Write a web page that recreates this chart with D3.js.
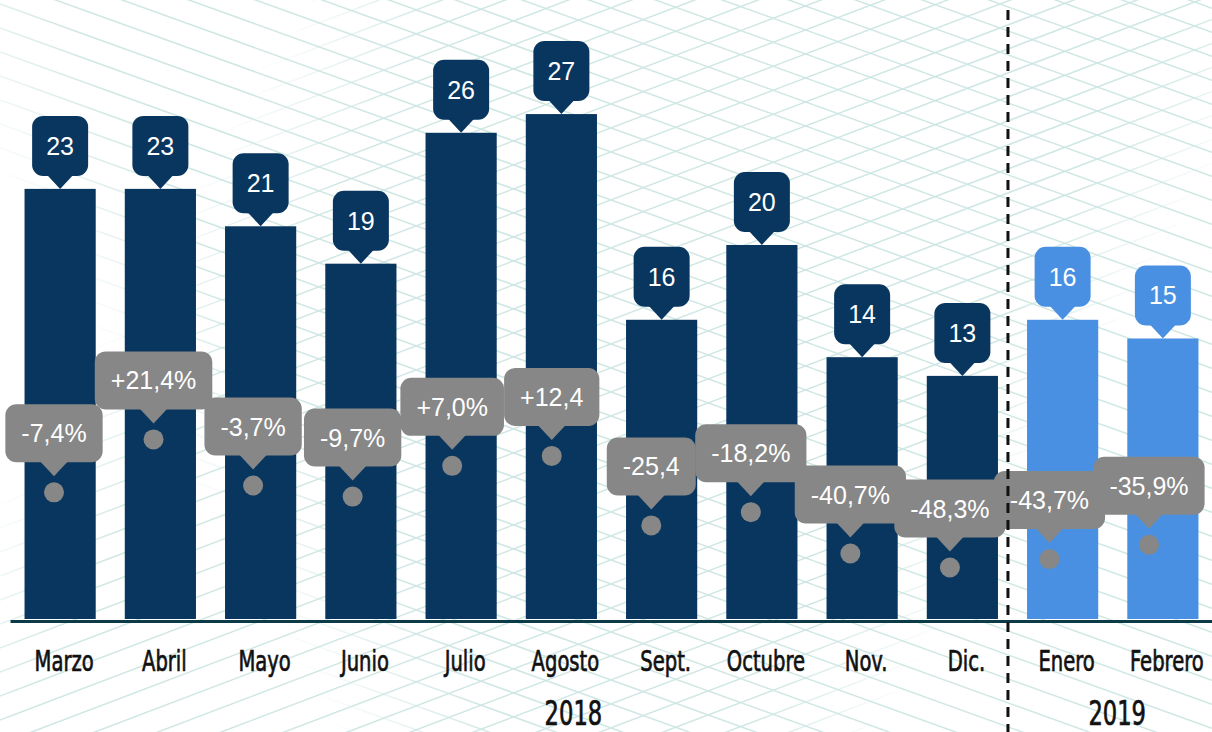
<!DOCTYPE html>
<html>
<head>
<meta charset="utf-8">
<script src="https://cdn.jsdelivr.net/npm/d3@7"></script>
<style>
  body { margin: 0; background: #fff; }
  svg { display: block; }
</style>
</head>
<body>
<svg id="chart"></svg>
<script>
const months = ["Marzo", "Abril", "Mayo", "Junio", "Julio", "Agosto", "Sept.", "Octubre", "Nov.", "Dic.", "Enero", "Febrero"];
const years = ["2018","2018","2018","2018","2018","2018","2018","2018","2018","2018","2019","2019"];
const counts = [23, 23, 21, 19, 26, 27, 16, 20, 14, 13, 16, 15];
const changes = [-7.4, 21.4, -3.7, -9.7, 7.0, 12.4, -25.4, -18.2, -40.7, -48.3, -43.7, -35.9];
const changeLabels = ["-7,4%", "+21,4%", "-3,7%", "-9,7%", "+7,0%", "+12,4", "-25,4", "-18,2%", "-40,7%", "-48,3%", "-43,7%", "-35,9%"];
const yearNames = ["2018", "2019"];

const width = 1212;
const height = 732;
const base = 619;
const condensed = '"DejaVu Sans Condensed", "DejaVu Sans", sans-serif';
const plain = '"Liberation Sans", Arial, sans-serif';

const svg = d3.select('#chart')
    .attr('width', width)
    .attr('height', height);

// background lattice, two fading families of lines
const defs = svg.append('defs');

function fadeMask(id, x1, y1, x2, y2, stops) {
  const grad = defs.append('linearGradient')
      .attr('id', id + '-grad')
      .attr('gradientUnits', 'userSpaceOnUse')
      .attr('x1', x1).attr('y1', y1).attr('x2', x2).attr('y2', y2);
  stops.forEach(s => grad.append('stop').attr('offset', s[0]).attr('stop-color', '#fff').attr('stop-opacity', s[1]));
  defs.append('mask').attr('id', id)
    .append('rect')
      .attr('width', width).attr('height', height)
      .attr('fill', 'url(#' + id + '-grad)');
}

fadeMask('mask-a', 0, height, width, 0, [[0, 0], [0.2, 0], [0.3, 1], [1, 1]]);
fadeMask('mask-b', 0, 0, width, height, [[0, 0], [0.18, 0], [0.27, 1], [0.72, 1], [0.8, 0], [1, 0]]);

const bgA = svg.append('g')
    .attr('mask', 'url(#mask-a)')
    .attr('stroke', '#cfe7e4')
    .attr('stroke-width', 1.5);

bgA.selectAll('line')
  .data(d3.range(-500, 800, 24))
  .enter().append('line')
    .attr('x1', 0).attr('y1', d => d)
    .attr('x2', width).attr('y2', d => d + width * 0.36);

const bgB = svg.append('g')
    .attr('mask', 'url(#mask-b)')
    .attr('stroke', '#cfe7e4')
    .attr('stroke-width', 1.5);

bgB.selectAll('line')
  .data(d3.range(0, 1300, 24))
  .enter().append('line')
    .attr('x1', 0).attr('y1', d => d)
    .attr('x2', width).attr('y2', d => d - width * 0.38);

const x = d3.scaleBand()
  .domain(months)
  .range([10, 1213])
  .paddingInner(0.29)
  .paddingOuter(0.145);

// the change series sits on its own, slightly narrower, point scale
const xp = d3.scalePoint()
  .domain(months)
  .range([54, 1149]);

const y = d3.scaleLinear()
  .domain([0, 33.1])
  .range([base, 0]);

const y2 = d3.scaleLinear()
  .domain([-76.3, 260.4])
  .range([base, 0]);

const color = (i) => years[i] === "2019" ? '#4a90e2' : '#08365f';
const cx = (i) => x(months[i]) + x.bandwidth() / 2;

const g = svg.append('g');

g.selectAll('.bar')
  .data(counts)
  .enter().append('rect')
    .attr('class', 'bar')
    .attr('x', (d, i) => x(months[i]))
    .attr('y', d => y(d))
    .attr('width', x.bandwidth())
    .attr('height', d => base - y(d))
    .attr('fill', (d, i) => color(i));

// value tags
const vt = g.selectAll('.vtag')
  .data(counts)
  .enter().append('g')
    .attr('class', 'vtag')
    .attr('transform', (d, i) => 'translate(' + cx(i) + ',' + y(d) + ')');

vt.append('rect')
  .attr('x', -28).attr('y', -73)
  .attr('width', 56).attr('height', 60)
  .attr('rx', 11)
  .attr('fill', (d, i) => color(i));

vt.append('path')
  .attr('d', 'M-13,-14L0,0L13,-14Z')
  .attr('fill', (d, i) => color(i));

vt.append('text')
  .attr('y', -34)
  .attr('text-anchor', 'middle')
  .attr('fill', '#fff')
  .style('font-family', plain)
  .style('font-size', '25px')
  .text(d => d);

// change tags
const ct = g.selectAll('.ctag')
  .data(changes)
  .enter().append('g')
    .attr('class', 'ctag')
    .attr('transform', (d, i) => 'translate(' + xp(months[i]) + ',' + y2(d) + ')');

ct.append('circle')
  .attr('r', 10)
  .attr('fill', '#878787');

ct.each(function(d, i) {
  const t = d3.select(this);
  const label = t.append('text')
    .attr('y', -50)
    .attr('text-anchor', 'middle')
    .attr('fill', '#fff')
    .style('font-family', plain)
    .style('font-size', '25px')
    .text(changeLabels[i]);
  const w = label.node().getComputedTextLength() + 32;
  t.insert('path', 'text')
    .attr('d', 'M-14,-31L0,-16L14,-31Z')
    .attr('fill', '#878787');
  t.insert('rect', 'text')
    .attr('x', -w / 2).attr('y', -88)
    .attr('width', w).attr('height', 58)
    .attr('rx', 11)
    .attr('fill', '#878787');
});

// axis
const axis = svg.append('g')
    .attr('transform', 'translate(0,' + (base + 2) + ')')
    .call(d3.axisBottom(x).tickSize(0).tickSizeOuter(0).tickPadding(29));

axis.select('.domain')
  .attr('stroke', '#0c3a47')
  .attr('stroke-width', 3);

axis.selectAll('text')
  .attr('fill', '#111')
  .attr('stroke', '#111')
  .attr('stroke-width', 0.7)
  .attr('transform', 'translate(4,0) scale(0.75,1)')
  .style('font-family', condensed)
  .style('font-size', '29px');

// year labels
const yearX = {
  "2018": x("Agosto") + x.bandwidth() / 2 + 12,
  "2019": (xp("Enero") + xp("Febrero")) / 2 + 18
};

svg.selectAll('.year')
  .data(yearNames)
  .enter().append('text')
    .attr('class', 'year')
    .attr('transform', d => 'translate(' + yearX[d] + ',725) scale(0.74,1)')
    .attr('text-anchor', 'middle')
    .attr('fill', '#111')
    .attr('stroke', '#111')
    .attr('stroke-width', 0.7)
    .style('font-family', condensed)
    .style('font-size', '34px')
    .text(d => d);

// divider between years
const split = x("Dic.") + x.bandwidth() + 10;
svg.append('line')
  .attr('x1', split).attr('x2', split)
  .attr('y1', 10).attr('y2', height)
  .attr('stroke', '#111')
  .attr('stroke-width', 3)
  .attr('stroke-dasharray', '10,7');
</script>
</body>
</html>
